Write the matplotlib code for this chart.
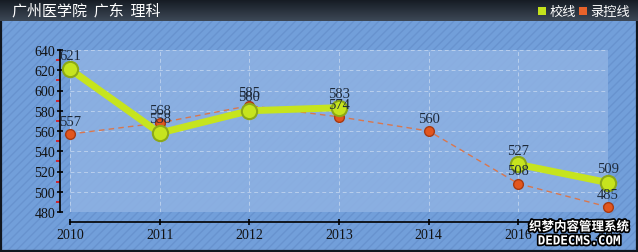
import numpy as np
import matplotlib
matplotlib.use('Agg')
import matplotlib.pyplot as plt
import matplotlib.patheffects as pe
from matplotlib.patches import Rectangle

plt.rcParams['font.family'] = ['Noto Sans CJK SC', 'DejaVu Sans']

# Data
title = '广州医学院  广东  理科'
years = ['2010', '2011', '2012', '2013', '2014', '2016', '2017']
school_line = [621, 558, 580, 583, np.nan, 527, 509]   # 校线
control_line = [557, 568, 585, 574, 560, 508, 485]     # 录控线
y_ticks = [480, 500, 520, 540, 560, 580, 600, 620, 640]

W, H = 638, 253
fig = plt.figure(figsize=(W / 100, H / 100), dpi=100)
fig.patch.set_facecolor('#729fda')

# hatched blue background
bg = fig.add_axes([0, 0, 1, 1])
bg.set_xlim(0, 1)
bg.set_ylim(0, 1)
bg.axis('off')
bg.add_patch(Rectangle((0, 0), 1, 1, facecolor='#729fda', edgecolor='#6893cf',
                       hatch='////', linewidth=0))
bg.add_patch(Rectangle((0.0008, 0.002), 0.998, 0.996, fill=False,
                       edgecolor='#10161e', linewidth=1.6))

# dark title bar
bar = fig.add_axes([0, 1 - 22 / H, 1, 22 / H])
grad = np.linspace(0, 1, 50).reshape(-1, 1)
bar.imshow(grad, aspect='auto', cmap=matplotlib.colors.LinearSegmentedColormap.from_list(
    'bar', ['#141a22', '#3d4856']), extent=[0, 1, 0, 1])
bar.set_xlim(0, 1)
bar.set_ylim(0, 1)
bar.axis('off')
bar.text(12 / W, 0.5, title, color='white', fontsize=10.8, va='center', ha='left')
bar.add_patch(Rectangle((538 / W, 0.28), 8 / W, 8 / 22, facecolor='#c4e21c', edgecolor='none'))
bar.text(550 / W, 0.45, '校线', color='white', fontsize=9.5, va='center')
bar.add_patch(Rectangle((579 / W, 0.28), 8 / W, 8 / 22, facecolor='#e8622a', edgecolor='none'))
bar.text(590 / W, 0.45, '录控线', color='white', fontsize=9.5, va='center')

# main plot
left, right, top, bottom = 70, 608, 51, 213
ax = fig.add_axes([left / W, 1 - bottom / H, (right - left) / W, (bottom - top) / H])
ax.set_facecolor('#8fb2e3')
ax.patch.set_alpha(0.85)
x = np.arange(len(years))
ax.set_xlim(0, len(years) - 1)
ax.set_ylim(480, 640)

ax.grid(True, color='white', linestyle=(0, (4, 3)), linewidth=0.7, alpha=0.4)
ax.set_axisbelow(True)

ax.plot(x, control_line, color='#d8774f', linestyle=(0, (4, 3)), linewidth=1.0,
        marker='o', markersize=7, markerfacecolor='#e2561e', markeredgecolor='#a83a12',
        markeredgewidth=1.0, zorder=3, clip_on=False)
ax.plot(x, school_line, color='#c6e41e', linewidth=5, solid_capstyle='round',
        marker='o', markersize=11, markerfacecolor='#c6e41e', markeredgecolor='#8ca818',
        markeredgewidth=1.5, zorder=4, clip_on=False)

label_font = dict(family='Liberation Serif', fontsize=10.5, color='#1e2a3a')
for xi, v in zip(x, control_line):
    ax.annotate(f'{v:.0f}', (xi, v), xytext=(0, 4.5), textcoords='offset points',
                ha='center', va='bottom', zorder=5, **label_font)
for xi, v in zip(x, school_line):
    if not np.isnan(v):
        ax.annotate(f'{v:.0f}', (xi, v), xytext=(0, 5.5), textcoords='offset points',
                    ha='center', va='bottom', zorder=5, **label_font)

for s in ['top', 'right']:
    ax.spines[s].set_visible(False)
ax.spines['left'].set_position(('outward', 7.2))
ax.spines['bottom'].set_position(('outward', 7.2))
ax.spines['left'].set_linewidth(1.2)
ax.spines['bottom'].set_linewidth(1.2)

ax.set_xticks(x)
ax.set_xticklabels(years, family='Liberation Serif', fontsize=10, color='#111111')
ax.set_yticks(y_ticks)
ax.set_yticklabels([str(t) for t in y_ticks], family='Liberation Serif', fontsize=10,
                   color='#111111')
ax.set_yticks(np.arange(490, 640, 20), minor=True)
ax.tick_params(axis='both', which='major', direction='inout', length=5, width=1.2, pad=1)
ax.tick_params(axis='y', which='minor', direction='out', length=3, width=1.2, color='#e01010')
ax.tick_params(axis='x', which='major', pad=2)

# watermark in bottom-right corner
wm = dict(color='white', fontweight='bold', ha='center', va='center',
          path_effects=[pe.withStroke(linewidth=2.5, foreground='black')])
fig.text(579 / W, 1 - 228 / H, '织梦内容管理系统', fontsize=9, **wm)
fig.text(579 / W, 1 - 242 / H, 'DEDECMS.COM', fontsize=9, family='DejaVu Sans Mono', **wm)

fig.savefig('out.png', dpi=100, facecolor=fig.get_facecolor())
